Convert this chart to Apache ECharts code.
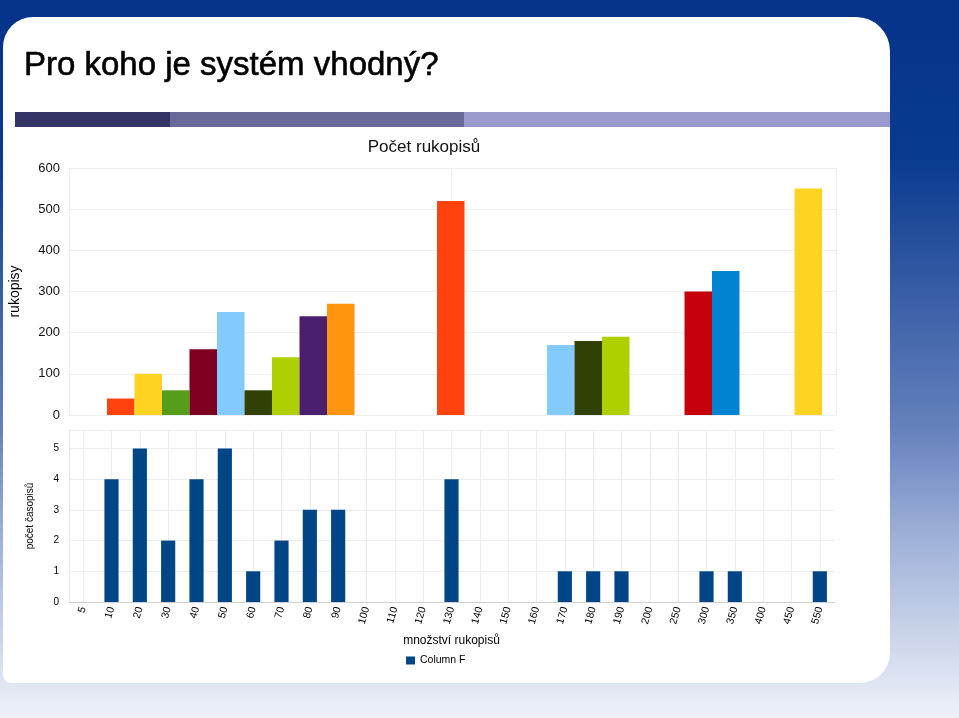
<!DOCTYPE html>
<html>
<head>
<meta charset="utf-8">
<script src="https://cdn.jsdelivr.net/npm/echarts@6/dist/echarts.min.js"></script>
<style>
html,body{margin:0;padding:0;background:#fff;}
#c{width:959px;height:718px;}
</style>
</head>
<body>
<div id="c"></div>
<script>
// ---- data ----
const categories = ['5','10','20','30','40','50','60','70','80','90','100','110','120','130','140','150','160','170','180','190','200','250','300','350','400','450','550'];
const pocetCasopisu = [0,4,5,2,4,5,1,2,3,3,0,0,0,4,0,0,0,1,1,1,0,0,1,1,0,0,1];
const pocetRukopisu = [null,40,100,60,160,250,60,140,240,270,null,null,null,520,null,null,null,170,180,190,null,null,300,350,null,null,550];
const topTicks = [0,100,200,300,400,500,600];
const bottomTicks = [0,1,2,3,4,5];

// ---- styles ----
const barPalette = {
  '10':'#ff420e','20':'#ffd320','30':'#579d1c','40':'#7e0021','50':'#83caff','60':'#314004',
  '70':'#aecf00','80':'#4b1f6f','90':'#ff950e','130':'#ff420e','170':'#83caff','180':'#314004',
  '190':'#aecf00','300':'#c5000b','350':'#0084d1','550':'#ffd320'
};
const FONT = '"Liberation Sans", Arial, sans-serif';

const chart = echarts.init(document.getElementById('c'), null, {renderer:'canvas'});

const topData = pocetRukopisu.map((v,i)=> v==null ? null : {value:v, itemStyle:{color:barPalette[categories[i]]}});

const option = {
  animation:false,
  textStyle:{fontFamily:FONT},
  graphic:[
    {type:'rect', z:-100, shape:{x:0,y:0,width:959,height:718},
     style:{fill:new echarts.graphic.LinearGradient(0,0,0,1,[
       {offset:0,color:'#05338a'},{offset:0.22,color:'#0a3a8f'},{offset:0.6,color:'#6682bd'},
       {offset:0.75,color:'#9fb1d8'},{offset:0.9,color:'#cfd8ec'},{offset:1,color:'#eef1f8'}])}},
    {type:'rect', z:-90, shape:{x:3,y:17,width:887,height:666,r:[30,34,30,8]}, style:{fill:'#ffffff'}},
    {type:'rect', z:-80, shape:{x:15,y:112,width:155,height:15}, style:{fill:'#353466'}},
    {type:'rect', z:-80, shape:{x:170,y:112,width:294,height:15}, style:{fill:'#6a6a9a'}},
    {type:'rect', z:-80, shape:{x:464,y:112,width:426,height:15}, style:{fill:'#9a9acc'}}
  ],
  title:[
    {text:'Pro koho je systém vhodný?', left:19, top:44,
     textStyle:{fontFamily:FONT, fontSize:33, fontWeight:'normal', color:'#000',
       textBorderColor:'#000', textBorderWidth:0.6}},
    {text:'Počet rukopisů', left:419, top:134, textAlign:'center',
     textStyle:{fontFamily:FONT, fontSize:17, fontWeight:'normal', color:'#111'}}
  ],
  legend:{
    data:['Column F'], left:401, top:650, icon:'rect', itemWidth:9, itemHeight:8, itemGap:5,
    textStyle:{fontFamily:FONT, fontSize:10.5, color:'#000'}
  },
  grid:[
    {left:64, top:168, width:772, height:247},           // top frame
    {left:79.5, top:168, width:742.5, height:247},       // top bars
    {left:69, top:430, width:765, height:172}            // bottom chart
  ],
  xAxis:[
    {gridIndex:0, type:'value', min:0, max:1, interval:1, show:true,
     axisLine:{show:false}, axisTick:{show:false}, axisLabel:{show:false},
     splitLine:{show:true, lineStyle:{color:'#eeeeee'}}},
    {gridIndex:1, type:'category', data:categories, show:false,
     axisLine:{show:false}, axisTick:{show:false}, axisLabel:{show:false}},
    {gridIndex:2, type:'category', data:categories,
     name:'množství rukopisů', nameLocation:'middle', nameGap:33,
     nameTextStyle:{fontFamily:FONT, fontSize:12, color:'#000'},
     axisLine:{show:true, lineStyle:{color:'#d0d0d0'}},
     axisTick:{show:false},
     axisLabel:{rotate:74, fontSize:10.5, color:'#000', margin:5, interval:0, fontFamily:FONT},
     splitLine:{show:true, alignWithLabel:true, interval:0, lineStyle:{color:'#ececec'}}}
  ],
  yAxis:[
    {gridIndex:0, type:'value', min:0, max:600, interval:100,
     name:'rukopisy', nameLocation:'middle', nameGap:47, nameRotate:90,
     nameTextStyle:{fontFamily:FONT, fontSize:14, color:'#000'},
     axisLine:{show:true, lineStyle:{color:'#eeeeee'}}, axisTick:{show:false},
     axisLabel:{fontSize:13, color:'#111', margin:9, fontFamily:FONT},
     splitLine:{show:true, lineStyle:{color:'#eeeeee'}}},
    {gridIndex:1, type:'value', min:0, max:600, show:false, splitLine:{show:false}},
    {gridIndex:2, type:'value', min:0, max:5.6, interval:1,
     name:'počet časopisů', nameLocation:'middle', nameGap:34, nameRotate:90,
     nameTextStyle:{fontFamily:FONT, fontSize:10, color:'#000'},
     axisLine:{show:true, lineStyle:{color:'#e4e4e4'}}, axisTick:{show:false},
     axisLabel:{fontSize:10, color:'#000', margin:10, fontFamily:FONT,
       formatter:(v)=> bottomTicks.indexOf(v)>=0 ? String(v) : ''},
     splitLine:{show:true, lineStyle:{color:'#ececec'}}}
  ],
  series:[
    {type:'bar', xAxisIndex:1, yAxisIndex:1, data:topData, barCategoryGap:'0%', barGap:'0%',
     markLine:{silent:true, symbol:'none', label:{show:false},
       lineStyle:{color:'#eeeeee', type:'solid', width:1}, z:-1,
       data:[{xAxis:'130'}]}},
    {type:'bar', name:'Column F', xAxisIndex:2, yAxisIndex:2, data:pocetCasopisu,
     barWidth:'50%', itemStyle:{color:'#004586'}}
  ]
};
chart.setOption(option);
</script>
</body>
</html>
